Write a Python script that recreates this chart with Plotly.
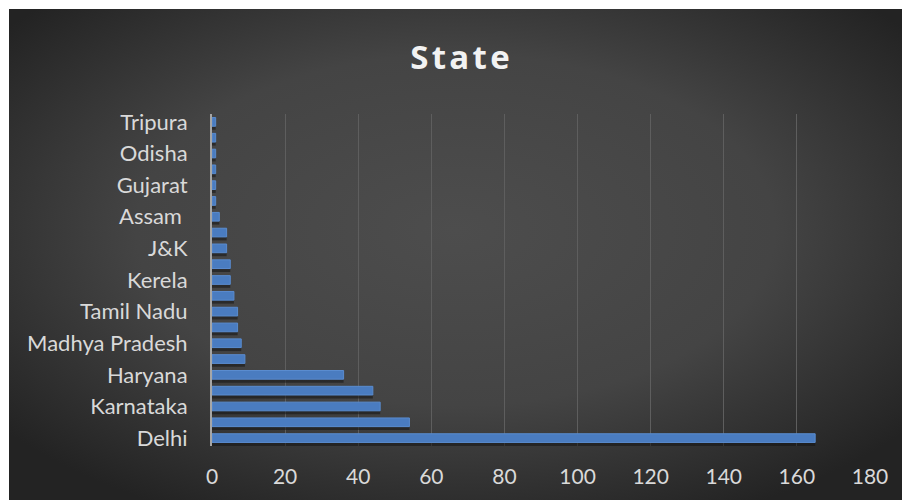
import base64
import plotly.graph_objects as go

# Categories from bottom to top (only every other label is shown in the reference)
states = ["Delhi", "Maharashtra", "Karnataka", "Uttar Pradesh", "Haryana",
          "West Bengal", "Madhya Pradesh", "Rajasthan", "Tamil Nadu", "Telangana",
          "Kerela", "Punjab", "J&K", "Bihar", "Assam ", "Goa", "Gujarat",
          "Chandigarh", "Odisha", "Jharkhand", "Tripura"]
cases = [165, 54, 46, 44, 36, 9, 8, 7, 7, 6, 5, 5, 4, 4, 2, 1, 1, 1, 1, 1, 1]
shown_labels = states[::2]
x_ticks = [0, 20, 40, 60, 80, 100, 120, 140, 160, 180]

W, H = 902, 500
ML, MR, MT, MB = 212, 32, 114, 54
PW, PH = W - ML - MR, H - MT - MB
BG_X0, BG_Y0 = 9, 9

svg = (
    '<svg xmlns="http://www.w3.org/2000/svg" width="893" height="491" viewBox="0 0 893 491" '
    'preserveAspectRatio="none">'
    '<defs><radialGradient id="g" cx="50%" cy="45%" r="65%">'
    '<stop offset="0%" stop-color="#4d4d4d"/>'
    '<stop offset="55%" stop-color="#444444"/>'
    '<stop offset="100%" stop-color="#232323"/>'
    '</radialGradient></defs>'
    '<rect width="893" height="491" fill="url(#g)"/></svg>'
)
bg_uri = "data:image/svg+xml;base64," + base64.b64encode(svg.encode()).decode()

font_family = "Lato, 'Open Sans', sans-serif"

fig = go.Figure()
# soft shadow below the bars
fig.add_trace(go.Bar(
    y=states, x=cases, orientation="h",
    width=0.55, offset=-0.275 - 0.22,
    marker=dict(color="rgba(20,20,20,0.55)", line=dict(width=0)),
    hoverinfo="skip", showlegend=False,
))
fig.add_trace(go.Bar(
    y=states, x=cases, orientation="h",
    width=0.55, offset=-0.275,
    marker=dict(color="#4a7cc0", line=dict(color="#5a8ccf", width=1)),
    showlegend=False,
))

fig.update_layout(
    width=W, height=H,
    margin=dict(l=ML, r=MR, t=MT, b=MB, pad=0),
    paper_bgcolor="white",
    plot_bgcolor="rgba(0,0,0,0)",
    barmode="overlay",
    images=[dict(
        source=bg_uri, xref="paper", yref="paper",
        x=(BG_X0 - ML) / PW, y=1 + (MT - BG_Y0) / PH,
        sizex=(W - BG_X0) / PW, sizey=(H - BG_Y0) / PH,
        xanchor="left", yanchor="top", sizing="stretch", layer="below",
    )],
    title=dict(
        text="<b>S\u200at\u200aa\u200at\u200ae</b>",
        x=460 / W, xanchor="center", y=1 - 57 / H, yanchor="middle",
        font=dict(family="'Open Sans', sans-serif", size=33, color="#f2f2f2"),
    ),
    xaxis=dict(
        range=[0, 180], tickvals=x_ticks, ticktext=[str(v) for v in x_ticks],
        showgrid=True, gridcolor="#5e5e5e", gridwidth=1,
        zeroline=False, showline=False, ticks="",
        tickfont=dict(family=font_family, size=21, color="#d9d9d9"),
        ticklabelstandoff=16,
    ),
    yaxis=dict(
        type="category", categoryorder="array", categoryarray=states,
        range=[-0.5, len(states) - 0.5],
        tickvals=shown_labels, ticktext=shown_labels,
        showgrid=False, zeroline=False,
        showline=True, linecolor="#a6a6a6", linewidth=2,
        ticks="", ticklabelstandoff=18,
        tickfont=dict(family=font_family, size=22, color="#d9d9d9"),
    ),
)

fig.write_html(
    "out.html",
    config={"displayModeBar": False},
    post_script="document.body.style.margin='0';document.body.style.overflow='hidden';",
)
